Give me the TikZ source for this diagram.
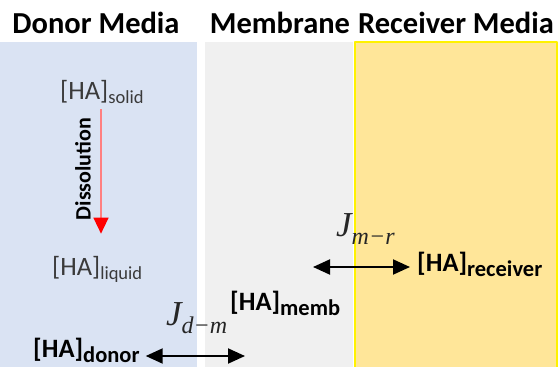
\documentclass[tikz,border=0pt]{standalone}
\usepackage{fontspec}
\setmainfont{Carlito}
\newfontfamily\jfont{Liberation Serif}
\usetikzlibrary{arrows.meta}
\definecolor{donorblue}{HTML}{DAE3F3}
\definecolor{membgray}{HTML}{F0F0F0}
\definecolor{recvyellow}{HTML}{FFE699}
\definecolor{recvborder}{HTML}{FFF200}
\definecolor{txtgray}{HTML}{3A3A3A}
\newcommand{\HAsub}[1]{[HA]\raisebox{-4pt}{\fontsize{18.5}{18}\selectfont #1}}
\newcommand{\HAbold}[1]{\textbf{[HA]\raisebox{-5pt}{\fontsize{22.5}{22}\selectfont #1}}}
\newcommand{\Jflux}[1]{{\jfont\itshape J\raisebox{-8pt}{\fontsize{24}{24}\selectfont #1}}}

\begin{document}
\begin{tikzpicture}[x=1pt,y=-1pt,line join=round,
	title/.style={anchor=base,inner sep=0,font=\fontsize{30.5}{36}\selectfont\bfseries},
	conc/.style={anchor=base west,inner sep=0,font=\fontsize{26.5}{30}\selectfont},
	flux/.style={anchor=base west,inner sep=0,font=\fontsize{35}{36}\selectfont,text=black!85},
	dblarrow/.style={line width=2pt,{Triangle[length=17pt,width=15pt]}-{Triangle[length=17pt,width=15pt]}},
	dissarrow/.style={line width=1.5pt,draw=red!50,-{Triangle[length=16pt,width=15pt,color=red]}}]
	\useasboundingbox (0,0) rectangle (560,367);
	
	% panels
	\fill[donorblue] (0,42) rectangle (197,367);
	\fill[membgray] (205,42) rectangle (353,367);
	\filldraw[fill=recvyellow,draw=recvborder,line width=2pt] (355,42) rectangle (557,368);
	
	% titles
	\node[title] (tdonor) at (96,33) {Donor Media};
	\node[title] (tmemb) at (280,33) {Membrane};
	\node[title] (trecv) at (456,33) {Receiver Media};
	
	% concentrations
	\node[conc,text=txtgray] (solid) at (60,99) {\HAsub{solid}};
	\node[conc,text=txtgray] (liquid) at (52,275) {\HAsub{liquid}};
	\node[conc] (donor) at (33,357) {\HAbold{donor}};
	\node[conc] (memb) at (230,310) {\HAbold{memb}};
	\node[conc] (receiver) at (417,271) {\HAbold{receiver}};
	
	% dissolution
	\coordinate (dissx) at (101,0);
	\draw[dissarrow,shorten <=6pt,shorten >=22pt] (solid.south -| dissx) -- (liquid.north -| dissx);
	\node[rotate=90,inner sep=0,font=\fontsize{22}{26}\selectfont\bfseries] (diss) at (83,169) {Dissolution};
	
	% fluxes
	\node[flux] (Jdm) at (166,325) {\Jflux{d−m}};
	\coordinate (dmend) at (245,356);
	\draw[dblarrow] ([xshift=6pt]dmend -| donor.east) -- (dmend);
	\node[flux] (Jmr) at (336,236) {\Jflux{m−r}};
	\coordinate (mrstart) at (313,267);
	\draw[dblarrow] (mrstart) -- ([xshift=-7pt]mrstart -| receiver.west);
\end{tikzpicture}
\end{document}
